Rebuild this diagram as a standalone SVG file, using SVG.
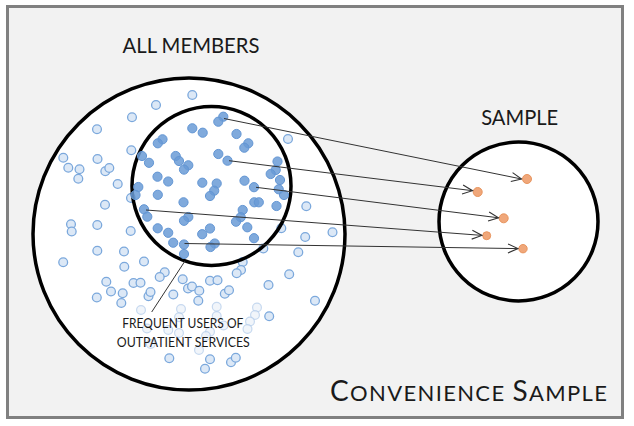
<svg xmlns="http://www.w3.org/2000/svg" width="634" height="426" viewBox="0 0 634 426">
<style>
.bg{fill:#f2f2f2;stroke:#808080;stroke-width:3}
.ring{fill:#fff;stroke:#000;stroke-width:3.5}
.ring2{fill:none;stroke:#000;stroke-width:3.5}
.o{fill:#dce8f6;stroke:#7ba8dc;stroke-width:1.3}
.f{fill:#eef3fa;stroke:#b9d0ec;stroke-width:1.2;opacity:0.8}
.i{fill:#6a9bd6;stroke:#6396d4;stroke-width:1;fill-opacity:0.85}
.s{fill:#f0a77a;stroke:#e8955f;stroke-width:1}
.ln{stroke:#333;stroke-width:1;fill:none}
.t{font-family:Lato,"Liberation Sans",sans-serif;fill:#1a1a1a}
</style>
<defs>
<marker id="arr" markerUnits="userSpaceOnUse" markerWidth="12" markerHeight="12" viewBox="-1 -6 12 12" refX="10" refY="0" orient="auto">
<path d="M0,-4.5 L10,0 L0,4.5" fill="none" stroke="#333" stroke-width="1.1"/>
</marker>
</defs>
<rect class="bg" x="7.5" y="6.5" width="615" height="411"/>
<g id="all-members">
<circle class="ring" cx="189" cy="234" r="156"/>
<text class="t" x="191" y="53.3" font-size="21" text-anchor="middle" textLength="137" lengthAdjust="spacingAndGlyphs">ALL MEMBERS</text>
<g>
<circle class="o" cx="192.3" cy="95" r="4.4"/><circle class="o" cx="156" cy="105" r="4.4"/><circle class="o" cx="132" cy="117.3" r="4.4"/><circle class="o" cx="97" cy="129.3" r="4.4"/><circle class="o" cx="288" cy="139" r="4.4"/><circle class="o" cx="131.3" cy="150.3" r="4.4"/><circle class="o" cx="63.3" cy="157.7" r="4.4"/><circle class="o" cx="97.5" cy="159" r="4.4"/><circle class="o" cx="68.3" cy="167.7" r="4.4"/><circle class="o" cx="79.5" cy="169.2" r="4.4"/><circle class="o" cx="78.3" cy="178.7" r="4.4"/><circle class="o" cx="105.3" cy="171.3" r="4.4"/><circle class="o" cx="109.3" cy="168" r="4.4"/><circle class="o" cx="117.7" cy="184" r="4.4"/><circle class="o" cx="131" cy="198" r="4.4"/><circle class="o" cx="105" cy="204.7" r="4.4"/><circle class="o" cx="306.3" cy="206.2" r="4.4"/><circle class="o" cx="71" cy="224.2" r="4.4"/><circle class="o" cx="71.7" cy="231.5" r="4.4"/><circle class="o" cx="97.3" cy="225" r="4.4"/><circle class="o" cx="130.7" cy="231" r="4.4"/><circle class="o" cx="281.3" cy="228.3" r="4.4"/><circle class="o" cx="305.2" cy="237" r="4.4"/><circle class="o" cx="332.5" cy="232.3" r="4.4"/><circle class="o" cx="97.3" cy="250.8" r="4.4"/><circle class="o" cx="124" cy="251.5" r="4.4"/><circle class="o" cx="263.3" cy="248.5" r="4.4"/><circle class="o" cx="298.3" cy="252.2" r="4.4"/><circle class="o" cx="63.2" cy="262.3" r="4.4"/><circle class="o" cx="144" cy="261.5" r="4.4"/><circle class="o" cx="124.3" cy="266.7" r="4.4"/><circle class="o" cx="242.7" cy="262" r="4.4"/><circle class="o" cx="241" cy="270" r="4.4"/><circle class="o" cx="236.7" cy="273.3" r="4.4"/><circle class="o" cx="164.7" cy="272.3" r="4.4"/><circle class="o" cx="159.7" cy="277" r="4.4"/><circle class="o" cx="289.2" cy="274.3" r="4.4"/><circle class="o" cx="106.3" cy="281.7" r="4.4"/><circle class="o" cx="133.5" cy="283" r="4.4"/><circle class="o" cx="140.5" cy="282.8" r="4.4"/><circle class="o" cx="182.7" cy="279.3" r="4.4"/><circle class="o" cx="210" cy="280.7" r="4.4"/><circle class="o" cx="217.5" cy="280.2" r="4.4"/><circle class="o" cx="111" cy="291.5" r="4.4"/><circle class="o" cx="122.7" cy="293.2" r="4.4"/><circle class="o" cx="96.8" cy="297.5" r="4.4"/><circle class="o" cx="121.3" cy="303" r="4.4"/><circle class="o" cx="148.5" cy="296.3" r="4.4"/><circle class="o" cx="150.5" cy="292" r="4.4"/><circle class="o" cx="173.3" cy="294.5" r="4.4"/><circle class="o" cx="188" cy="288.5" r="4.4"/><circle class="o" cx="192" cy="286.5" r="4.4"/><circle class="o" cx="199.3" cy="290.7" r="4.4"/><circle class="o" cx="198.3" cy="300.7" r="4.4"/><circle class="o" cx="224.8" cy="293.8" r="4.4"/><circle class="o" cx="229" cy="290.2" r="4.4"/><circle class="o" cx="268.5" cy="285" r="4.4"/><circle class="o" cx="315" cy="300.7" r="4.4"/><circle class="o" cx="269.2" cy="316.2" r="4.4"/><circle class="o" cx="169.3" cy="358.3" r="4.4"/><circle class="o" cx="210" cy="359.2" r="4.4"/><circle class="o" cx="205" cy="368.8" r="4.4"/><circle class="o" cx="231" cy="362.2" r="4.4"/><circle class="o" cx="235.8" cy="357.8" r="4.4"/>
<circle class="f" cx="141" cy="310" r="4.4"/><circle class="f" cx="181" cy="309" r="4.4"/><circle class="f" cx="216.7" cy="306.7" r="4.4"/><circle class="f" cx="216.7" cy="316" r="4.4"/><circle class="f" cx="257" cy="307.5" r="4.4"/><circle class="f" cx="255" cy="315" r="4.4"/><circle class="f" cx="250" cy="321.5" r="4.4"/><circle class="f" cx="247.5" cy="329" r="4.4"/><circle class="f" cx="223.5" cy="325.5" r="4.4"/><circle class="f" cx="210" cy="331.7" r="4.4"/><circle class="f" cx="206" cy="336" r="4.4"/><circle class="f" cx="179" cy="333" r="4.4"/><circle class="f" cx="168.3" cy="330" r="4.4"/><circle class="f" cx="179" cy="317.3" r="4.4"/><circle class="f" cx="147" cy="328.5" r="4.4"/><circle class="f" cx="150.7" cy="344" r="4.4"/><circle class="f" cx="199" cy="350" r="4.4"/>
</g>
</g>
<g id="frequent-users">
<circle class="ring2" cx="211.5" cy="186" r="79.5"/>
<g>
<circle class="i" cx="223.3" cy="116.7" r="4.6"/><circle class="i" cx="218.3" cy="121.7" r="4.6"/><circle class="i" cx="192.3" cy="128.3" r="4.6"/><circle class="i" cx="202.7" cy="132.7" r="4.6"/><circle class="i" cx="236.5" cy="134" r="4.6"/><circle class="i" cx="248.3" cy="143.3" r="4.6"/><circle class="i" cx="244.3" cy="147.7" r="4.6"/><circle class="i" cx="162.5" cy="139.3" r="4.6"/><circle class="i" cx="157.8" cy="143.3" r="4.6"/><circle class="i" cx="142" cy="156" r="4.6"/><circle class="i" cx="149" cy="162.8" r="4.6"/><circle class="i" cx="175.7" cy="156" r="4.6"/><circle class="i" cx="179" cy="161" r="4.6"/><circle class="i" cx="188.3" cy="165.3" r="4.6"/><circle class="i" cx="184" cy="169.6" r="4.6"/><circle class="i" cx="218.3" cy="154" r="4.6"/><circle class="i" cx="227.5" cy="160.7" r="4.6"/><circle class="i" cx="277.5" cy="161.5" r="4.6"/><circle class="i" cx="275.7" cy="170" r="4.6"/><circle class="i" cx="270.7" cy="174" r="4.6"/><circle class="i" cx="280" cy="180" r="4.6"/><circle class="i" cx="157.5" cy="176.7" r="4.6"/><circle class="i" cx="168.2" cy="181.5" r="4.6"/><circle class="i" cx="202.3" cy="182.7" r="4.6"/><circle class="i" cx="216.7" cy="183.5" r="4.6"/><circle class="i" cx="214.2" cy="190.7" r="4.6"/><circle class="i" cx="210" cy="196" r="4.6"/><circle class="i" cx="244.5" cy="180.7" r="4.6"/><circle class="i" cx="254" cy="187.2" r="4.6"/><circle class="i" cx="278.7" cy="189.3" r="4.6"/><circle class="i" cx="284" cy="195" r="4.6"/><circle class="i" cx="138.3" cy="187" r="4.6"/><circle class="i" cx="135.5" cy="195" r="4.6"/><circle class="i" cx="157.8" cy="194.8" r="4.6"/><circle class="i" cx="183.5" cy="202.3" r="4.6"/><circle class="i" cx="254.3" cy="202.3" r="4.6"/><circle class="i" cx="258.8" cy="202.3" r="4.6"/><circle class="i" cx="276.5" cy="206" r="4.6"/><circle class="i" cx="144" cy="209.3" r="4.6"/><circle class="i" cx="147.3" cy="216.7" r="4.6"/><circle class="i" cx="242.7" cy="210" r="4.6"/><circle class="i" cx="240.7" cy="217.2" r="4.6"/><circle class="i" cx="236" cy="221.7" r="4.6"/><circle class="i" cx="188.3" cy="217" r="4.6"/><circle class="i" cx="184" cy="220.8" r="4.6"/><circle class="i" cx="157.7" cy="228.3" r="4.6"/><circle class="i" cx="168.2" cy="232.8" r="4.6"/><circle class="i" cx="210" cy="228.5" r="4.6"/><circle class="i" cx="202.2" cy="234.2" r="4.6"/><circle class="i" cx="247.3" cy="227.3" r="4.6"/><circle class="i" cx="254" cy="238.2" r="4.6"/><circle class="i" cx="173.2" cy="242.7" r="4.6"/><circle class="i" cx="184" cy="244.5" r="4.6"/><circle class="i" cx="214.7" cy="243.5" r="4.6"/><circle class="i" cx="210.5" cy="247" r="4.6"/><circle class="i" cx="184" cy="254" r="4.6"/>
</g>
<text class="t" x="182.8" y="328.3" font-size="12.5" text-anchor="middle" textLength="121" lengthAdjust="spacingAndGlyphs">FREQUENT USERS OF</text>
<text class="t" x="183.3" y="346.7" font-size="12.5" text-anchor="middle" textLength="133" lengthAdjust="spacingAndGlyphs">OUTPATIENT SERVICES</text>
</g>
<g id="sample">
<circle class="ring" cx="518.5" cy="221.5" r="79.5"/>
<text class="t" x="519.7" y="125" font-size="21" text-anchor="middle" textLength="77" lengthAdjust="spacingAndGlyphs">SAMPLE</text>
<circle class="s" cx="527" cy="179" r="4.5"/>
<circle class="s" cx="477.7" cy="192" r="4.5"/>
<circle class="s" cx="503.7" cy="218.3" r="4.5"/>
<circle class="s" cx="486.7" cy="235.7" r="4"/>
<circle class="s" cx="523" cy="248.7" r="4.2"/>
</g>
<g id="connectors">
<line class="ln" x1="224" y1="118.5" x2="521.5" y2="179" marker-end="url(#arr)"/>
<line class="ln" x1="229" y1="160.7" x2="472.5" y2="190.7" marker-end="url(#arr)"/>
<line class="ln" x1="256" y1="187.3" x2="498.5" y2="217.8" marker-end="url(#arr)"/>
<line class="ln" x1="146" y1="210" x2="482" y2="235.4" marker-end="url(#arr)"/>
<line class="ln" x1="184.5" y1="243.5" x2="518" y2="248.6" marker-end="url(#arr)"/>
<line class="ln" x1="185" y1="261" x2="151.7" y2="312"/>
</g>
<g id="title">
<text class="t" x="330" y="400.7" font-size="22" textLength="277" lengthAdjust="spacing"><tspan font-size="28">C</tspan>ONVENIENCE <tspan font-size="28">S</tspan>AMPLE</text>
</g>
</svg>
